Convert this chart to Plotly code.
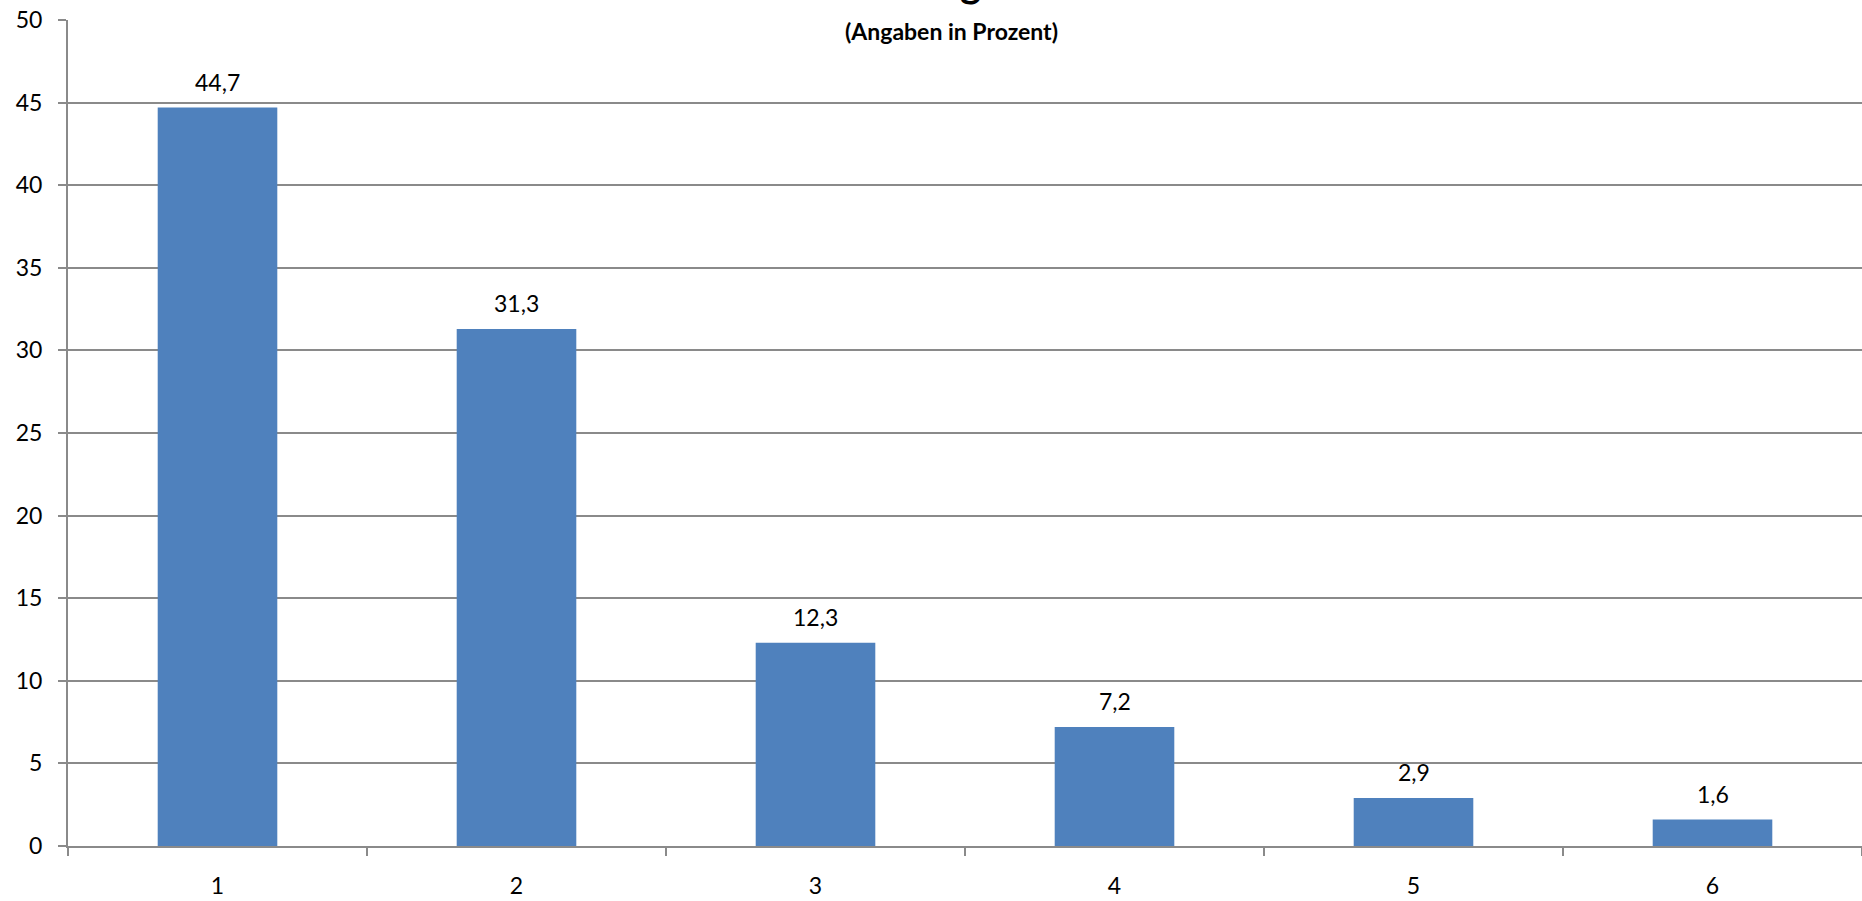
import plotly.graph_objects as go

categories = ["1", "2", "3", "4", "5", "6"]
values = [44.7, 31.3, 12.3, 7.2, 2.9, 1.6]
value_labels = ["44,7", "31,3", "12,3", "7,2", "2,9", "1,6"]
y_ticks = [0, 5, 10, 15, 20, 25, 30, 35, 40, 45, 50]
subtitle = "(Angaben in Prozent)"
title_fragment = "g"

FONT = "Lato"
GRID = "#8a8a8a"
BAR = "#4F81BD"

fig = go.Figure()
fig.add_trace(go.Bar(x=categories, y=values, marker=dict(color=BAR, line=dict(width=0)),
                     width=0.4, hoverinfo="skip"))

annotations = []
for i, (v, t) in enumerate(zip(values, value_labels)):
    annotations.append(dict(x=i, y=v, xref="x", yref="y", text=t, showarrow=False,
                            yanchor="middle", yshift=26,
                            font=dict(family=FONT, size=23, color="#000000")))
annotations.append(dict(x=0.553, y=0.9867, xref="paper", yref="paper", text="<b>" + subtitle + "</b>",
                        showarrow=False, xanchor="right", yanchor="middle",
                        font=dict(family=FONT, size=23, color="#000000")))
annotations.append(dict(x=0.5028, y=1.0145, xref="paper", yref="paper", text="<b>" + title_fragment + "</b>",
                        showarrow=False, xanchor="center", yanchor="bottom",
                        font=dict(family=FONT, size=40, color="#000000")))

fig.update_layout(
    width=1862, height=901,
    margin=dict(l=68, r=0, t=20, b=55),
    paper_bgcolor="white", plot_bgcolor="white",
    showlegend=False,
    font=dict(family=FONT, size=23, color="#000000"),
    annotations=annotations,
    bargap=0.6,
)
fig.update_xaxes(type="category", range=[-0.5, 5.5], showline=True, linecolor=GRID, linewidth=2,
                 ticks="outside", ticklen=8, tickwidth=2, tickcolor=GRID,
                 tickson="boundaries", showgrid=False, ticklabelstandoff=18,
                 tickfont=dict(family=FONT, size=23, color="#000000"))
fig.update_yaxes(range=[0, 50], tickvals=y_ticks, showline=True, linecolor=GRID, linewidth=2,
                 ticks="outside", ticklen=8, tickwidth=2, tickcolor=GRID,
                 showgrid=True, gridcolor=GRID, gridwidth=2, zeroline=False,
                 ticklabelstandoff=11,
                 tickfont=dict(family=FONT, size=23, color="#000000"))

fig.write_html("out.html", config={"displayModeBar": False},
               post_script="document.body.style.margin='0';")
